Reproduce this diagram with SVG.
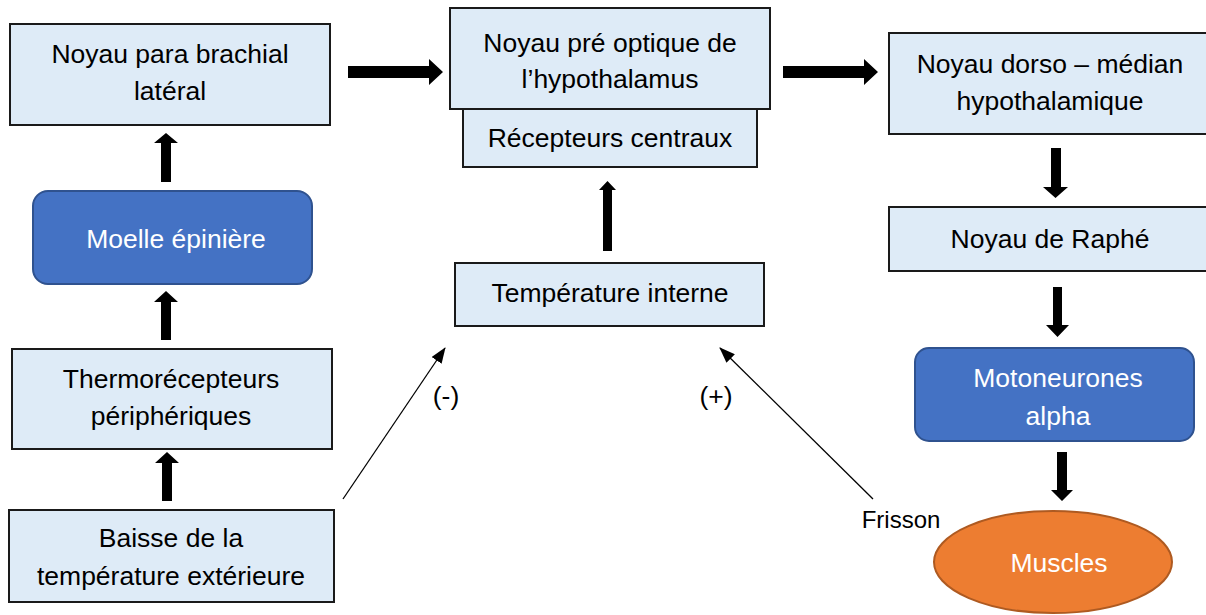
<svg xmlns="http://www.w3.org/2000/svg" width="1206" height="615" viewBox="0 0 1206 615">
<defs>
<style>
.lb{fill:#DEEBF7;stroke:#1a1a1a;stroke-width:2}
.bl{fill:#4472C4;stroke:#2F528F;stroke-width:2}
.or{fill:#ED7D31;stroke:#AE5A21;stroke-width:2}
text{font-family:"Liberation Sans",Arial,sans-serif;font-size:26.5px;text-anchor:middle;fill:#000}
.w{fill:#fff}
.thick{fill:#000}
.thin{stroke:#000;stroke-width:1.3;fill:none;marker-end:url(#ah)}
</style>
<marker id="ah" viewBox="0 0 16 12" refX="15" refY="6" markerWidth="16" markerHeight="12" markerUnits="userSpaceOnUse" orient="auto">
<path d="M0,0 L16,6 L0,12 Z" fill="#000"/>
</marker>
</defs>
<rect width="1206" height="615" fill="#fff"/>

<g id="connectors">
<path class="thick" d="M348,66 H429 V59 L443,72 L429,85 V78 H348 Z"/>
<path class="thick" d="M783,66 H864 V59 L878,72 L864,85 V78 H783 Z"/>
<path class="thick" d="M161,182 V143 H154 L166,133 L178,143 H171 V182 Z"/>
<path class="thick" d="M161,340 V302 H154 L166,291 L178,302 H171 V340 Z"/>
<path class="thick" d="M162,501 V463 H155 L167,452 L179,463 H172 V501 Z"/>
<path class="thick" d="M603,251 V190 H599 L607.5,181 L616,190 H612 V251 Z"/>
<path class="thick" d="M1051,148 V187 H1043 L1055.5,198 L1068,187 H1061 V148 Z"/>
<path class="thick" d="M1053,287 V325 H1046 L1057.5,337 L1069,325 H1062 V287 Z"/>
<path class="thick" d="M1057,452 V490 H1051 L1062,501 L1073,490 H1067 V452 Z"/>
<line class="thin" x1="343" y1="499" x2="445" y2="348"/>
<line class="thin" x1="873" y1="499" x2="720" y2="348"/>
<text x="446" y="405">(-)</text>
<text x="716" y="405">(+)</text>
<text x="901" y="528" style="font-size:24px">Frisson</text>
</g>

<g id="n-npb">
<rect class="lb" x="10" y="24" width="320" height="101"/>
<text x="170" y="63">Noyau para brachial</text>
<text x="170" y="100">latéral</text>
</g>
<g id="n-npo">
<rect class="lb" x="450" y="8" width="320" height="101"/>
<text x="610" y="52">Noyau pré optique de</text>
<text x="610" y="88">l’hypothalamus</text>
</g>
<g id="n-rc">
<rect class="lb" x="463" y="109" width="294" height="58"/>
<text x="610" y="147">Récepteurs centraux</text>
</g>
<g id="n-ndm">
<rect class="lb" x="889" y="33" width="325" height="101"/>
<text x="1050" y="73">Noyau dorso – médian</text>
<text x="1050" y="110">hypothalamique</text>
</g>
<g id="n-raphe">
<rect class="lb" x="889" y="207" width="325" height="64"/>
<text x="1050" y="248">Noyau de Raphé</text>
</g>
<g id="n-moelle">
<rect class="bl" x="33" y="191" width="279" height="93" rx="15"/>
<text class="w" x="176" y="248">Moelle épinière</text>
</g>
<g id="n-thermo">
<rect class="lb" x="12" y="349" width="320" height="100"/>
<text x="171" y="388">Thermorécepteurs</text>
<text x="171" y="425">périphériques</text>
</g>
<g id="n-baisse">
<rect class="lb" x="9" y="510" width="325" height="92"/>
<text x="171" y="547">Baisse de la</text>
<text x="171" y="585">température extérieure</text>
</g>
<g id="n-temp">
<rect class="lb" x="455" y="263" width="309" height="63"/>
<text x="610" y="302">Température interne</text>
</g>
<g id="n-moto">
<rect class="bl" x="915" y="348" width="279" height="93" rx="14"/>
<text class="w" x="1058" y="387">Motoneurones</text>
<text class="w" x="1058" y="425">alpha</text>
</g>
<g id="n-muscles">
<ellipse class="or" cx="1053" cy="562" rx="119" ry="51"/>
<text class="w" x="1059" y="572">Muscles</text>
</g>
</svg>
